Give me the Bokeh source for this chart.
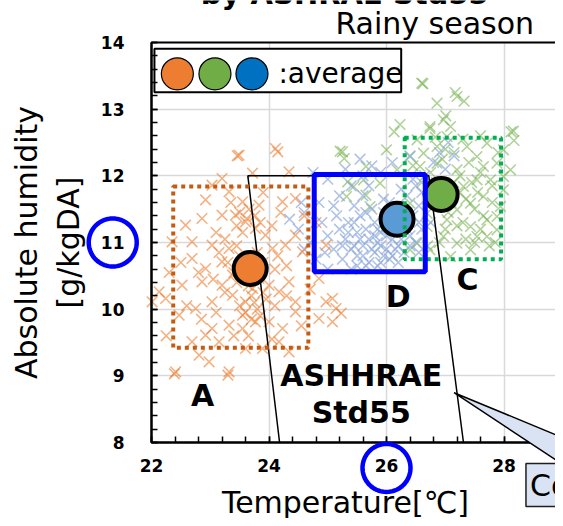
import numpy as np
from bokeh.plotting import figure
from bokeh.models import PolyAnnotation, Label, SingleIntervalTicker, LinearAxis, Grid, Range1d
from bokeh.core.properties import value
from bokeh.embed import file_html
from bokeh.resources import INLINE

# ---------------- data ----------------
orange_t = [24.11, 23.46, 24.34, 23.72, 23.20, 23.03, 22.92, 23.32, 23.55, 23.83, 24.23, 24.45, 23.43, 23.60,
            23.77, 23.94, 23.20, 22.86, 22.58, 22.35, 22.69, 23.03, 23.32, 24.06, 24.28, 24.45, 24.57, 22.69,
            22.92, 23.20, 23.38, 23.20, 22.86, 22.52, 22.13, 22.01, 22.24, 22.47, 22.75, 23.03, 23.38, 23.60,
            23.72, 23.83, 24.00, 24.17, 24.34, 24.45, 24.85, 24.97, 25.08, 25.14, 25.08, 24.85, 24.45, 24.23,
            24.00, 23.77, 23.55, 23.55, 23.32, 23.03, 22.92, 22.69, 22.81, 22.98, 22.41, 23.32, 24.34, 23.89,
            24.17, 23.60, 23.15, 22.39, 23.30, 25.23, 23.50, 23.62, 23.45, 23.66, 23.76, 23.55, 23.70, 23.80,
            23.60, 23.75, 23.90, 23.85, 23.65, 23.50, 23.95, 23.70, 23.30, 23.50, 23.90, 24.10, 23.40, 23.60,
            23.49, 24.15, 24.97, 24.80, 23.10, 23.25, 23.85, 24.05, 24.20, 23.35, 23.15, 23.45, 23.80, 24.15,
            24.30, 22.80, 23.05, 23.25, 23.45, 24.10, 24.30, 22.60, 22.85, 23.10, 23.40, 23.65, 24.05, 24.55,
            24.70, 22.30, 22.50, 23.90, 24.60, 22.25]
orange_h = [12.41, 12.30, 12.06, 12.04, 11.96, 11.86, 11.64, 11.76, 11.61, 11.56, 11.61, 11.66, 11.41, 11.31,
            11.21, 11.11, 11.41, 11.36, 11.26, 11.01, 11.01, 10.96, 10.91, 10.91, 10.96, 11.11, 10.86, 10.76,
            10.61, 10.71, 10.51, 10.36, 10.41, 10.36, 10.26, 10.11, 10.16, 9.91, 10.01, 10.11, 10.21, 10.11,
            10.31, 10.46, 10.36, 10.26, 10.41, 10.11, 10.46, 10.11, 10.16, 10.01, 9.81, 9.86, 9.96, 9.71,
            9.81, 9.81, 9.91, 9.71, 9.76, 9.71, 9.61, 9.51, 9.31, 9.21, 9.06, 9.06, 9.36, 9.41,
            9.51, 9.41, 9.51, 9.03, 9.01, 9.94, 11.45, 11.36, 11.25, 11.50, 11.40, 11.15, 10.20, 10.00,
            9.95, 10.10, 10.25, 9.90, 10.35, 10.05, 10.15, 9.85, 10.70, 10.80, 10.70, 10.60, 10.55, 10.75,
            12.31, 12.36, 10.96, 11.30, 11.15, 11.05, 11.30, 11.25, 11.45, 11.60, 10.85, 10.95, 10.85, 10.80,
            10.65, 10.55, 10.45, 10.25, 10.40, 10.05, 10.20, 10.05, 9.85, 9.95, 9.60, 9.60, 9.55, 9.75,
            10.30, 10.55, 10.70, 11.75, 11.40, 9.60]

blue_t = [24.35, 24.50, 24.60, 24.70, 24.80, 24.90, 24.85, 25.00, 25.00, 25.10, 25.15, 25.20, 25.25, 25.30,
          25.35, 25.40, 25.40, 25.45, 25.50, 25.50, 25.55, 25.60, 25.60, 25.65, 25.70, 25.70, 25.75, 25.80,
          25.80, 25.85, 25.90, 25.90, 25.95, 26.00, 26.00, 26.05, 26.10, 26.10, 26.15, 26.20, 26.20, 26.25,
          26.30, 26.30, 26.35, 26.40, 26.45, 26.50, 26.50, 26.55, 26.60, 26.65, 26.70, 26.75, 26.80, 26.85,
          26.90, 27.00, 27.05, 27.15, 25.30, 25.60, 25.90, 26.10, 26.40, 25.00, 24.60, 24.75, 25.55, 25.75,
          25.45, 25.60, 25.75, 25.90, 26.05, 25.55, 25.85, 26.15, 25.65, 25.95, 25.35, 26.25, 26.35, 26.60,
          26.45, 26.25, 26.05, 25.20, 25.25, 25.45, 25.65, 25.85, 26.00, 26.20, 26.40, 26.55, 25.95, 25.70,
          25.40, 25.10, 24.95, 26.35, 25.80, 26.10, 25.50, 26.55, 24.55]
blue_h = [11.35, 11.20, 11.45, 11.00, 10.75, 11.30, 11.60, 11.10, 10.60, 10.90, 11.40, 11.70, 10.75, 11.05,
          11.30, 10.60, 10.90, 11.55, 11.15, 10.80, 11.40, 10.95, 11.70, 11.20, 10.70, 11.05, 11.50, 10.85,
          11.30, 11.00, 11.15, 10.70, 11.45, 10.90, 11.25, 11.60, 11.05, 10.80, 11.35, 11.15, 10.95, 11.50,
          11.25, 10.85, 11.70, 11.10, 11.40, 11.00, 11.85, 11.55, 11.20, 12.00, 11.65, 11.30, 12.20, 11.90,
          12.35, 12.10, 12.50, 12.30, 12.10, 12.00, 12.05, 12.20, 12.30, 11.95, 10.90, 12.05, 12.25, 12.15,
          10.95, 10.80, 10.90, 10.95, 10.75, 11.05, 11.20, 10.90, 10.65, 10.80, 11.15, 11.05, 11.45, 11.75,
          11.95, 11.80, 11.40, 11.20, 10.95, 11.30, 11.45, 10.65, 11.10, 10.70, 10.95, 11.30, 11.65, 11.85,
          11.85, 11.55, 10.85, 11.20, 11.10, 11.50, 10.65, 10.85, 11.60]

green_t = [26.62, 27.17, 27.32, 27.01, 26.74, 26.83, 28.12, 28.17, 25.28, 26.13, 26.60, 26.86, 27.20, 26.97,
           27.09, 26.74, 26.23, 28.16, 28.11, 25.21, 26.00, 26.52, 27.37, 27.71, 27.54, 27.88, 27.77, 27.99,
           27.94, 27.71, 27.88, 27.54, 27.20, 27.43, 26.97, 26.69, 26.52, 26.40, 27.20, 27.43, 27.31, 27.54,
           27.20, 26.86, 26.57, 26.40, 26.18, 25.89, 25.61, 25.44, 25.32, 25.72, 26.40, 26.69, 27.65, 27.88,
           27.03, 27.43, 27.71, 26.74, 27.09, 26.86, 27.03, 26.63, 27.99, 27.65, 27.99, 27.10, 27.30, 27.50,
           27.00, 27.25, 27.60, 26.90, 27.35, 27.15, 26.95, 27.40, 27.60, 26.80, 27.45, 27.80, 25.25, 25.65,
           25.34, 25.65, 27.05, 27.20, 27.35, 27.55, 27.65, 27.80, 27.15, 26.95, 27.50, 27.75, 27.25, 26.75,
           27.60, 27.90, 27.30, 26.60, 26.70, 27.85, 26.45, 27.00]
green_h = [13.38, 13.25, 13.12, 12.90, 12.71, 12.58, 12.66, 12.53, 12.26, 12.66, 13.39, 13.09, 13.19, 12.84,
           12.74, 12.74, 12.77, 12.67, 12.09, 12.37, 12.39, 12.54, 12.44, 12.49, 12.29, 12.19, 11.94, 11.79,
           11.54, 11.34, 11.19, 11.09, 10.99, 10.89, 11.09, 11.24, 10.99, 10.89, 11.49, 11.59, 11.84, 11.94,
           12.09, 12.19, 12.14, 12.29, 12.09, 11.89, 11.94, 11.84, 11.69, 11.54, 11.59, 11.44, 11.69, 11.39,
           11.34, 11.24, 11.09, 10.89, 10.79, 12.44, 12.59, 12.34, 12.39, 12.14, 11.99, 11.60, 11.30, 11.50,
           11.20, 11.75, 11.20, 11.00, 11.05, 12.35, 12.25, 12.20, 12.60, 11.70, 11.90, 11.60, 12.36, 12.14,
           11.91, 11.71, 11.45, 11.25, 11.65, 11.75, 11.40, 11.85, 11.90, 11.55, 11.00, 10.95, 12.00, 12.05,
           12.05, 12.35, 12.55, 11.90, 10.95, 11.00, 12.15, 12.40]

avg_t = [23.68, 26.18, 26.93]
avg_h = [10.61, 11.35, 11.72]
avg_colors = ["#ED7D31", "#5B9BD5", "#70AD47"]

legend_colors = ["#ED7D31", "#70AD47", "#0070C0"]

# zone boxes [left, right, bottom, top]
zone_A = [22.37, 24.67, 9.42, 11.84]
zone_D = [24.77, 26.66, 10.56, 12.02]
zone_C = [26.31, 27.95, 10.75, 12.57]

# ASHRAE Std55 comfort zone outline
ashrae_t = [24.18, 23.64, 26.72, 27.31]
ashrae_h = [8.0, 12.0, 12.0, 8.0]

x_label = "Temperature[℃]"
y_label = "Absolute humidity\n[g/kgDA]"

# ---------------- figure ----------------
W, H = 555, 518
XPX, YPX = 58.75, 400 / 6.0          # pixels per data unit
LEFT_PX, BOTTOM_PX = 151, 442         # where (22, 8) sits on the canvas
x_rng = Range1d(22 - LEFT_PX / XPX, 22 + (W - LEFT_PX) / XPX)
y_rng = Range1d(8 - (H - BOTTOM_PX) / YPX, 8 + BOTTOM_PX / YPX)

p = figure(width=W, height=H, x_range=x_rng, y_range=y_rng, title=None,
           x_axis_location=None, y_axis_location=None,
           output_backend="svg", toolbar_location=None, min_border=0)
p.background_fill_color = "white"
p.border_fill_color = "white"
p.outline_line_color = None
p.xgrid.visible = False
p.ygrid.visible = False

xt = SingleIntervalTicker(interval=2, num_minor_ticks=5)
yt = SingleIntervalTicker(interval=1, num_minor_ticks=5)

p.add_layout(Grid(dimension=0, ticker=xt, bounds=(22, 28.9), cross_bounds=(8, 14),
                  grid_line_color="#D9D9D9", grid_line_width=1.5))
p.add_layout(Grid(dimension=1, ticker=yt, bounds=(8, 14), cross_bounds=(22, 29.2),
                  grid_line_color="#D9D9D9", grid_line_width=1.5))

xaxis = LinearAxis(fixed_location=8, ticker=xt, bounds=(22, 28.6), axis_label=x_label)
yaxis = LinearAxis(fixed_location=22, ticker=yt, bounds=(8, 14), axis_label=y_label)
for ax in (xaxis, yaxis):
    ax.axis_line_color = "black"
    ax.axis_line_width = 2
    ax.major_tick_in = 6
    ax.major_tick_out = 0
    ax.minor_tick_in = 6
    ax.minor_tick_out = 0
    ax.major_tick_line_color = "black"
    ax.minor_tick_line_color = "black"
    ax.major_tick_line_width = 1.5
    ax.minor_tick_line_width = 1.5
    ax.major_label_text_font = "DejaVu Sans"
    ax.major_label_text_font_style = "bold"
    ax.major_label_text_font_size = "17px"
    ax.major_label_text_color = "black"
    ax.axis_label_text_font = "DejaVu Sans"
    ax.axis_label_text_font_style = "normal"
    ax.axis_label_text_font_size = "30px"
    ax.axis_label_text_color = "black"
xaxis.major_label_standoff = 16
yaxis.major_label_standoff = 27
xaxis.axis_label_standoff = 10
yaxis.axis_label_standoff = 12
p.add_layout(xaxis, "below")
p.add_layout(yaxis, "left")

# scatter clouds
p.scatter(green_t, green_h, marker="x", size=15, line_width=1.6, line_color="#70AD47", line_alpha=0.55)
p.scatter(blue_t, blue_h, marker="x", size=15, line_width=1.6, line_color="#8FAADC", line_alpha=0.7)
p.scatter(orange_t, orange_h, marker="x", size=15, line_width=1.6, line_color="#ED7D31", line_alpha=0.6)

# ASHRAE outline
p.line(ashrae_t, ashrae_h, line_color="black", line_width=1.5)

# averages
p.scatter(avg_t, avg_h, marker="circle", size=33, fill_color=avg_colors, line_color="black", line_width=4)

# zone rectangles
p.quad(left=[zone_A[0]], right=[zone_A[1]], bottom=[zone_A[2]], top=[zone_A[3]],
       fill_alpha=0, line_color="#C55A11", line_width=4, line_dash="4 4")
p.quad(left=[zone_C[0]], right=[zone_C[1]], bottom=[zone_C[2]], top=[zone_C[3]],
       fill_alpha=0, line_color="#00B050", line_width=4, line_dash="4 4")
p.quad(left=[zone_D[0]], right=[zone_D[1]], bottom=[zone_D[2]], top=[zone_D[3]],
       fill_alpha=0, line_color="#0000FF", line_width=5)

# plot-area border
p.quad(left=[22], right=[29.2], bottom=[8], top=[14], fill_alpha=0, line_color="black", line_width=2)

# legend
p.quad(left=[22.05], right=[26.25], bottom=[13.255], top=[13.905], fill_color="white",
       line_color="black", line_width=2)
p.scatter([22.44, 23.08, 23.71], [13.53, 13.53, 13.53], marker="circle", size=32,
          fill_color=legend_colors, line_color="black", line_width=1.2)
p.text([24.16], [13.54], text=[":average"], text_font=value("DejaVu Sans"), text_font_size="28px",
       text_align="left", text_baseline="alphabetic", text_color="black")

# zone labels
p.text([22.87, 26.20, 27.38], [8.70, 10.19, 10.45], text=["A", "D", "C"],
       text_font=value("DejaVu Sans"), text_font_style="bold", text_font_size="30px",
       text_align="center", text_baseline="alphabetic", text_color="black")
p.text([25.57, 25.57], [9.0, 8.45], text=["ASHHRAE", "Std55"],
       text_font=value("DejaVu Sans"), text_font_style="bold", text_font_size="30px",
       text_align="center", text_baseline="alphabetic", text_color="black")

# title and subtitle
p.add_layout(Label(x=25.29, y=14.73, text="by ASHRAE Std55", text_font="DejaVu Sans", text_font_style="bold",
                   text_font_size="29px", text_align="center", text_baseline="alphabetic", text_color="black"))
p.add_layout(Label(x=25.13, y=14.29, text="Rainy season", text_font="DejaVu Sans", text_font_size="30px",
                   text_align="left", text_baseline="alphabetic", text_color="black"))

# callout
p.add_layout(PolyAnnotation(xs=[27.15, 29.02, 29.02], ys=[8.747, 8.064, 7.66],
                            fill_color="#DAE3F3", fill_alpha=1, line_color="black", line_alpha=1,
                            line_width=1.5))
p.add_layout(Label(x=28.374, y=7.685, text="Comfort zone", text_font="DejaVu Sans", text_font_size="30px",
                   text_align="left", text_baseline="top", text_color="black",
                   background_fill_color="#DAE3F3", border_line_color="#1F1F1F", border_line_width=1.5,
                   padding=4))

# highlight rings around tick labels
theta = np.linspace(0, 2 * np.pi, 73)
for cx, cy in [(21.34, 11.0), (26.0, 7.618)]:
    p.add_layout(PolyAnnotation(xs=list(cx + 0.4085 * np.cos(theta)), ys=list(cy + 0.36 * np.sin(theta)),
                                fill_alpha=0, line_color="#0000FF", line_alpha=1, line_width=4.5))

open("out.html", "w").write(file_html(p, INLINE))
